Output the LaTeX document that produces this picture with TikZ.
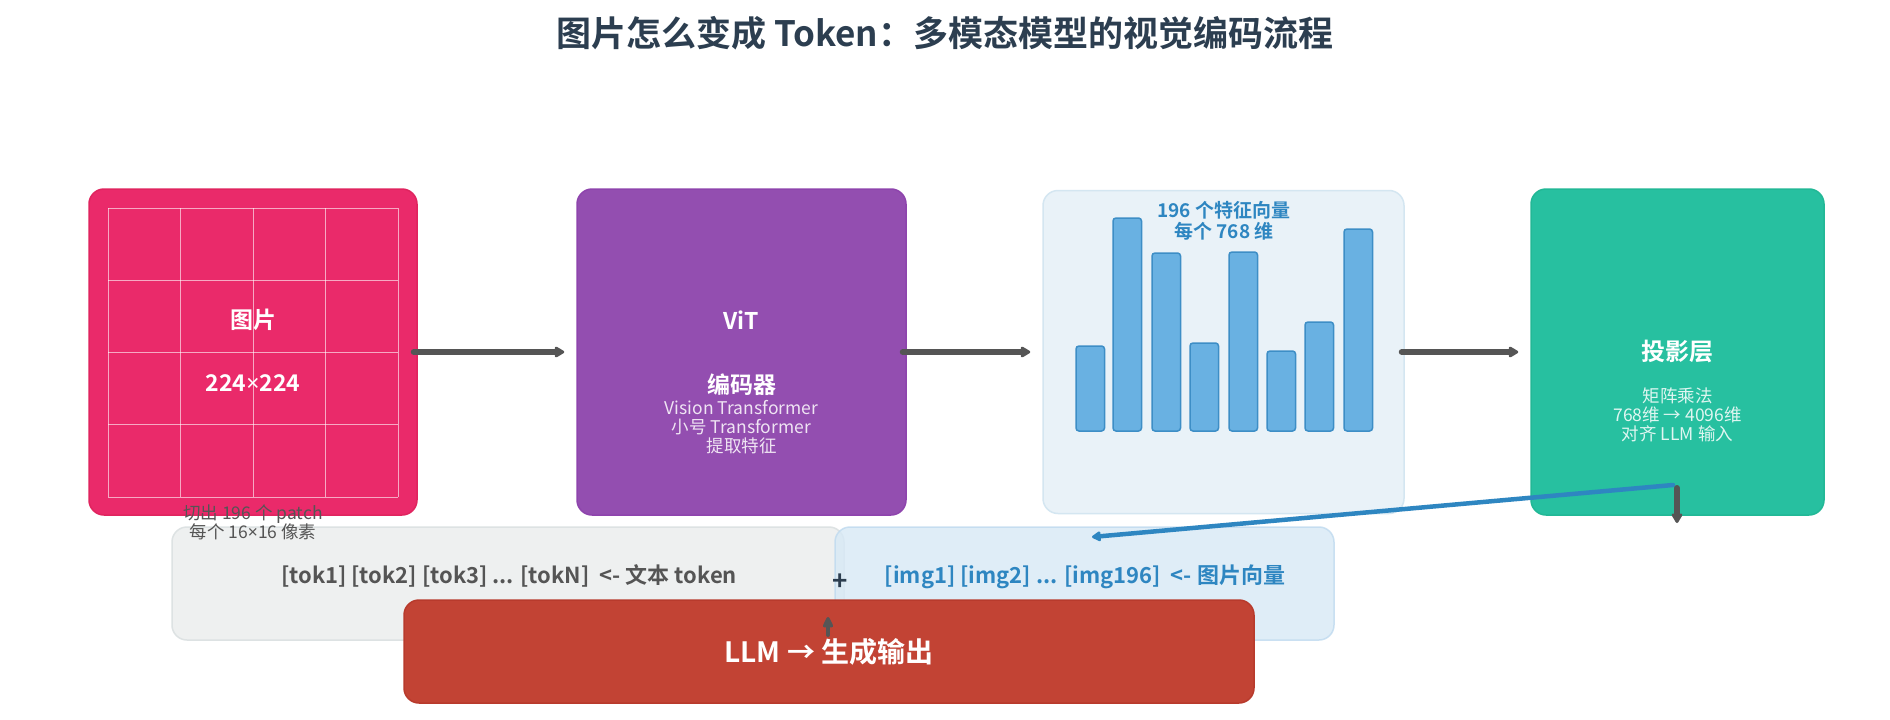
\documentclass[tikz,border=0pt]{standalone}
\usepackage{fontspec}
\setmainfont{Noto Sans CJK SC}[BoldFont={* Bold}]
\newfontfamily\latfont{Noto Sans}
\usetikzlibrary{arrows.meta}
\definecolor{titlec}{HTML}{2C3E50}
\definecolor{pinkc}{HTML}{EA2A6A}
\definecolor{pinkb}{HTML}{E0245F}
\definecolor{purpc}{HTML}{934EB0}
\definecolor{purpb}{HTML}{8E44AD}
\definecolor{featc}{HTML}{E9F2F8}
\definecolor{featb}{HTML}{D4E6F1}
\definecolor{barc}{HTML}{69B1E2}
\definecolor{barb}{HTML}{3D8EC6}
\definecolor{tealc}{HTML}{27C0A0}
\definecolor{tealb}{HTML}{22B896}
\definecolor{grayc}{HTML}{EEF0F0}
\definecolor{grayb}{HTML}{DDE2E3}
\definecolor{bluec}{HTML}{D7E9F6}
\definecolor{blueb}{HTML}{BFDAEF}
\definecolor{redc}{HTML}{C24334}
\definecolor{redb}{HTML}{B83A2C}
\definecolor{bluet}{HTML}{2E86C1}
\definecolor{arrc}{HTML}{555555}
\tikzset{
  box/.style={draw, line width=1.5pt, rounded corners=15pt, inner sep=0pt},
  big/.style={font=\bfseries\fontsize{23}{27}\selectfont, text=white},
  sub/.style={font=\fontsize{17.5}{19}\selectfont, align=center},
  garr/.style={draw=arrc, line width=6pt, line cap=round, -{Triangle[length=11pt,width=12pt,round]}},
  barbox/.style={draw=barb, fill=barc, line width=1.5pt, rounded corners=3pt},
}
\begin{document}
\begin{tikzpicture}[x=1pt, y=-1pt]
\useasboundingbox (0,0) rectangle (1890,720);
\fill[white] (0,0) rectangle (1890,720);
% title
\node[font=\bfseries\fontsize{35}{40}\selectfont, text=titlec] (title) at (945,33) {图片怎么变成 Token：多模态模型的视觉编码流程};
% box 1 image
\node[box, draw=pinkb, fill=pinkc, minimum width=328pt, minimum height=326pt] (img) at (253,352) {};
\foreach \i in {0,...,4} {
  \draw[white, opacity=0.6, line width=0.8pt] (108+72.5*\i,208) -- (108+72.5*\i,497);
  \draw[white, opacity=0.6, line width=0.8pt] (108,208+72.25*\i) -- (398,208+72.25*\i);
}
\node[big] (imgt) at (253,320) {图片};
\node[big] (imgs) at (253,383) {224{\latfont\bfseries ×}224};
% box 2 ViT
\node[box, draw=purpb, fill=purpc, minimum width=329pt, minimum height=326pt] (vit) at (741.5,352) {};
\node[big] (vitt) at (741.5,320) {ViT};
\node[big] (vitc) at (741.5,385) {编码器};
\node[sub, text=white!85!purpc] (vits) at (741.5,427.5) {Vision Transformer\\小号 Transformer\\提取特征};
% box 3 features
\node[box, draw=featb, fill=featc, minimum width=361pt, minimum height=323pt] (feat) at (1223.5,352) {};
\foreach \x/\t in {1076/346,1113/218,1152/253,1190/343,1229/252,1267/351,1305/322,1344/229} {
  \draw[barbox] (\x,\t) rectangle (\x+28.5,431);
}
\node[font=\bfseries\fontsize{19}{20.5}\selectfont, text=bluet, align=center] (featt) at (1224,221) {196 个特征向量\\每个 768 维};
% box 4 projection
\node[box, draw=tealb, fill=tealc, minimum width=293pt, minimum height=326pt] (proj) at (1677.5,352) {};
\node[big, font=\bfseries\fontsize{24}{28}\selectfont] (projt) at (1677.5,352) {投影层};
\node[sub, text=white!85!tealc] (projs) at (1677.5,414.5) {矩阵乘法\\768维 → 4096维\\对齐 LLM 输入};
% arrows between boxes
\draw[garr] ([xshift=-4pt]img.east) -- ([xshift=-12pt]vit.west);
\draw[garr] ([xshift=-4pt]vit.east) -- ([xshift=-12pt]feat.west);
\draw[garr] ([xshift=-3pt]feat.east) -- ([xshift=-12pt]proj.west);
% token boxes
\node[box, draw=grayb, fill=grayc, minimum width=672pt, minimum height=113pt] (tok) at (508,583.5) {};
\node[box, draw=blueb, fill=bluec, fill opacity=0.8, draw opacity=0.8, minimum width=499pt, minimum height=113pt] (imgv) at (1084.5,583.5) {};
\node[font=\bfseries\fontsize{22}{26}\selectfont, text=arrc] (tokt) at (509,576) {[tok1] [tok2] [tok3] ... [tokN] \ <- 文本 token};
\node[font=\bfseries\fontsize{22}{26}\selectfont, text=bluet] (imgvt) at (1085,577) {[img1] [img2] ... [img196] \ <- 图片向量};
\node[font=\bfseries\fontsize{26}{30}\selectfont, text=titlec] (plus) at (840,582) {+};
% caption over the boxes
\node[sub, text=arrc] (cap) at (253,522.5) {切出 196 个 patch\\每个 16{\latfont ×}16 像素};
% projection outputs
\coordinate (pstart) at (1673,485);
\coordinate (pend) at (1092,537);
\draw[bluet, line width=4.5pt, line cap=round, -{Triangle[length=10pt,width=11pt,round]}] (pstart) -- (pend);
\coordinate (d1) at (1677,488);
\coordinate (d2) at (1677,523);
\draw[garr] (d1) -- (d2);
% LLM box
\node[box, draw=redb, fill=redc, minimum width=850pt, minimum height=103pt] (llm) at (829,651.5) {};
\node[font=\bfseries\fontsize{28}{32}\selectfont, text=white] (llmt) at (829,652) {LLM → 生成输出};
\coordinate (u1) at (828,635);
\coordinate (u2) at (828,617);
\draw[arrc, line width=4pt, line cap=round, -{Triangle[length=13pt,width=11pt,round]}] (u1) -- (u2);
\end{tikzpicture}
\end{document}
